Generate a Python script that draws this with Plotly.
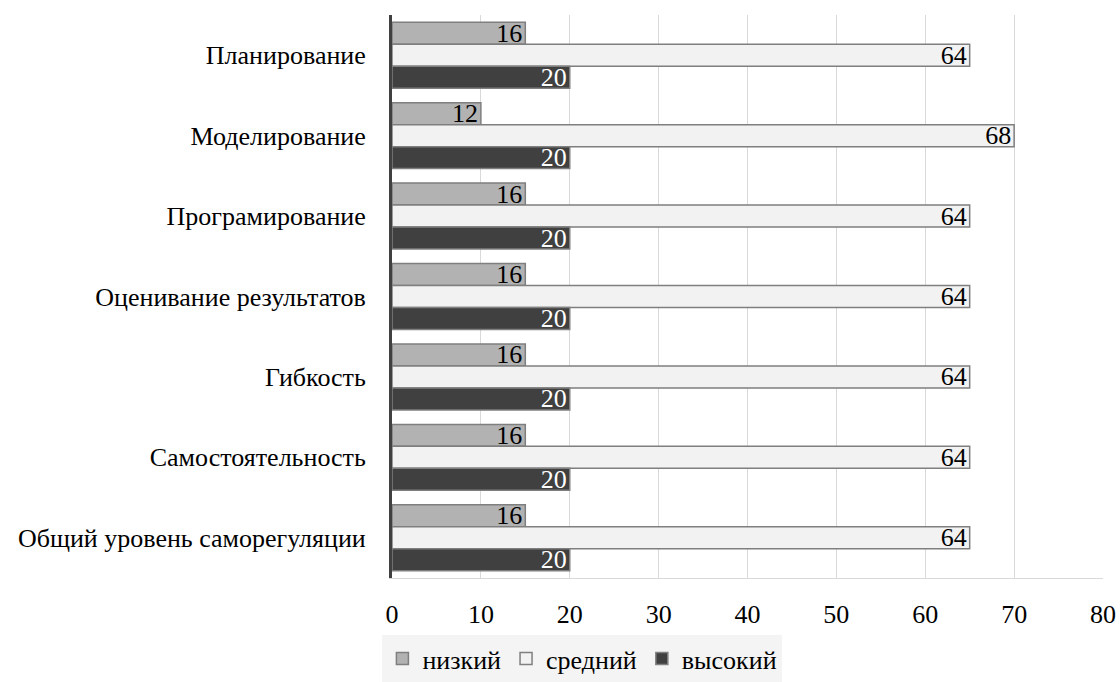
import plotly.graph_objects as go

categories = ["Планирование", "Моделирование", "Програмирование", "Оценивание результатов",
              "Гибкость", "Самостоятельность", "Общий уровень саморегуляции"]
series_names = ["низкий", "средний", "высокий"]
# bar lengths as drawn in the picture
low_vals = [15, 10, 15, 15, 15, 15, 15]
mid_vals = [65, 70, 65, 65, 65, 65, 65]
high_vals = [20, 20, 20, 20, 20, 20, 20]
# data labels as printed
low_labels = ["16", "12", "16", "16", "16", "16", "16"]
mid_labels = ["64", "68", "64", "64", "64", "64", "64"]
high_labels = ["20", "20", "20", "20", "20", "20", "20"]

FONT = "Liberation Serif, Times New Roman, serif"
FS = 26
colors = ["#b2b2b2", "#f2f2f2", "#404040"]
text_colors = ["black", "black", "white"]

fig = go.Figure()
for name, vals, labels, c, tc in zip(series_names, [low_vals, mid_vals, high_vals],
                                     [low_labels, mid_labels, high_labels], colors, text_colors):
    fig.add_trace(go.Bar(
        y=categories, x=vals, name=name, orientation="h",
        marker=dict(color=c, line=dict(color="#7f7f7f", width=1.5)),
        text=labels, textposition="inside", insidetextanchor="end", textangle=0,
        constraintext="none", cliponaxis=False,
        textfont=dict(family=FONT, size=FS, color=tc),
        hoverinfo="x+y+name",
    ))

fig.update_layout(
    width=1120, height=682,
    margin=dict(l=392, r=17, t=15, b=104, autoexpand=False),
    paper_bgcolor="white", plot_bgcolor="white",
    barmode="group", bargap=0.18, bargroupgap=0,
    font=dict(family=FONT, size=FS, color="black"),
    xaxis=dict(range=[0, 80], dtick=10, showgrid=True, gridcolor="#d9d9d9", gridwidth=1,
               zeroline=False, showline=True, linecolor="#d9d9d9", linewidth=1,
               automargin=False,
               ticks="outside", ticklen=13, tickcolor="rgba(0,0,0,0)",
               tickfont=dict(family=FONT, size=FS, color="black")),
    yaxis=dict(autorange="reversed", showline=True, linecolor="#404040", linewidth=3,
               showgrid=False, automargin=False,
               ticks="outside", ticklen=18, tickcolor="rgba(0,0,0,0)",
               tickfont=dict(family=FONT, size=FS, color="black")),
    legend=dict(orientation="h", xref="container", yref="container", x=0.52, xanchor="center",
                y=0.0, yanchor="bottom", bgcolor="#f4f4f4",
                font=dict(family=FONT, size=FS, color="black"),
                itemwidth=30, tracegroupgap=0),
    showlegend=True,
)

fig.write_html("out.html")
